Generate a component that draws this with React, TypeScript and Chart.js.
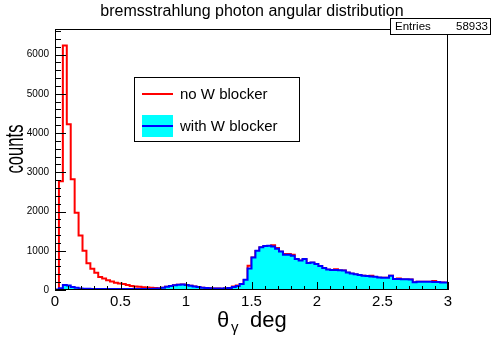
import React, { useEffect, useRef } from "react";
import { Chart, registerables } from "chart.js";

Chart.register(...registerables);

// ---- data (bins of 0.03 deg from 0 to 3 deg) ----
const BIN_W = 0.03;
const X_MIN = 0;
const X_MAX = 3;
const Y_MAX = 6650;
const xTickValues = [0, 0.5, 1, 1.5, 2, 2.5, 3];
const xTickLabels = ["0", "0.5", "1", "1.5", "2", "2.5", "3"];
const yTickValues = [0, 1000, 2000, 3000, 4000, 5000, 6000];
const yTickLabels = ["0", "1000", "2000", "3000", "4000", "5000", "6000"];

const noBlocker = [
  0, 2770, 6230, 4220, 2820, 1970, 1390, 1000, 680, 540,
  440, 330, 290, 250, 215, 185, 165, 150, 125, 105,
  92, 80, 72, 62, 55, 50, 45, 58, 82, 102,
  118, 132, 137, 122, 107, 88, 72, 58, 48, 42,
  38, 36, 34, 40, 48, 90, 115, 145, 255, 620,
  825, 995, 1085, 1115, 1120, 1140, 1070, 975, 920, 920,
  900, 785, 745, 785, 685, 695, 655, 605, 555, 515,
  505, 530, 500, 495, 440, 415, 395, 375, 360, 350,
  360, 330, 315, 310, 310, 360, 275, 295, 270, 270,
  265, 192, 210, 210, 210, 210, 230, 200, 188, 185,
];

const withBlocker = [
  10, 45, 130, 115, 75, 55, 40, 32, 30, 28,
  27, 26, 26, 25, 25, 24, 25, 24, 24, 23,
  24, 24, 25, 26, 28, 30, 40, 60, 85, 105,
  120, 135, 140, 125, 110, 90, 75, 60, 50, 45,
  40, 38, 36, 42, 50, 75, 100, 150, 260, 550,
  830, 1000, 1090, 1120, 1125, 1110, 1050, 980, 900, 895,
  870, 790, 750, 790, 690, 700, 660, 610, 560, 520,
  510, 510, 505, 500, 445, 420, 400, 380, 365, 355,
  345, 335, 320, 315, 315, 365, 280, 280, 275, 275,
  270, 195, 213, 213, 213, 213, 205, 205, 190, 190,
];

const TITLE = "bremsstrahlung photon angular distribution";
const LEGEND_RED = "no W blocker";
const LEGEND_BLUE = "with W blocker";
const ENTRIES = "58933";

const FONT = "'Liberation Sans', Arial, Helvetica, sans-serif";

function histPoints(vals: number[]) {
  const pts = vals.map((v, i) => ({ x: i * BIN_W, y: v }));
  pts.push({ x: vals.length * BIN_W, y: vals[vals.length - 1] });
  return pts;
}

const overlayPlugin = {
  id: "rootOverlay",
  afterDatasetsDraw(chart: any) {
    const { ctx, chartArea: a, scales } = chart;
    const xs = scales.x;
    const ys = scales.y;
    ctx.save();
    ctx.strokeStyle = "#000";
    ctx.lineWidth = 1;
    // ticks x (inside)
    for (let i = 0; i <= 30; i++) {
      const v = i / 10;
      const px = Math.round(xs.getPixelForValue(v)) + 0.5;
      const len = i % 5 === 0 ? 8 : 4;
      ctx.beginPath();
      ctx.moveTo(px, a.bottom);
      ctx.lineTo(px, a.bottom - len);
      ctx.stroke();
    }
    // ticks y (inside)
    for (let v = 0; v <= Y_MAX; v += 200) {
      const py = Math.round(ys.getPixelForValue(v)) + 0.5;
      const len = v % 1000 === 0 ? 11 : 6;
      ctx.beginPath();
      ctx.moveTo(a.left, py);
      ctx.lineTo(a.left + len, py);
      ctx.stroke();
    }
    // frame
    ctx.strokeRect(Math.round(a.left) + 0.5, Math.round(a.top) + 0.5,
      Math.round(a.right - a.left) - 1, Math.round(a.bottom - a.top) - 1);
    ctx.restore();
  },
  afterDraw(chart: any) {
    const { ctx } = chart;
    ctx.save();
    ctx.fillStyle = "#000";
    // title
    ctx.font = `16px ${FONT}`;
    ctx.textAlign = "center";
    ctx.textBaseline = "middle";
    ctx.fillText(TITLE, 252, 12);

    // stats box
    ctx.fillStyle = "#fff";
    ctx.fillRect(390, 18, 101, 17);
    ctx.strokeStyle = "#000";
    ctx.lineWidth = 1;
    ctx.strokeRect(390.5, 18.5, 100, 16);
    ctx.fillStyle = "#000";
    ctx.font = `11.5px ${FONT}`;
    ctx.textAlign = "left";
    ctx.fillText("Entries", 395, 27);
    ctx.textAlign = "right";
    ctx.fillText(ENTRIES, 488, 27);

    // legend
    ctx.fillStyle = "#fff";
    ctx.fillRect(134, 77, 166, 65);
    ctx.strokeRect(134.5, 77.5, 165, 64);
    ctx.strokeStyle = "#ff0000";
    ctx.lineWidth = 2;
    ctx.beginPath();
    ctx.moveTo(142, 94);
    ctx.lineTo(173, 94);
    ctx.stroke();
    ctx.fillStyle = "#00ffff";
    ctx.fillRect(142, 115, 31, 22);
    ctx.strokeStyle = "#0000ff";
    ctx.beginPath();
    ctx.moveTo(142, 126);
    ctx.lineTo(173, 126);
    ctx.stroke();
    ctx.fillStyle = "#000";
    ctx.font = `15px ${FONT}`;
    ctx.textAlign = "left";
    ctx.textBaseline = "middle";
    ctx.fillText(LEGEND_RED, 180, 95);
    ctx.fillText(LEGEND_BLUE, 180, 127);

    // x axis title: theta_gamma deg
    ctx.font = `22px ${FONT}`;
    ctx.textBaseline = "alphabetic";
    ctx.textAlign = "left";
    ctx.fillText("\u03b8", 217, 327);
    ctx.font = `15px ${FONT}`;
    ctx.fillText("\u03b3", 231, 332);
    ctx.font = `22px ${FONT}`;
    ctx.fillText("deg", 250, 327);

    // y axis title
    ctx.save();
    ctx.translate(23, 149);
    ctx.rotate(-Math.PI / 2);
    ctx.scale(0.64, 1);
    ctx.font = `26px ${FONT}`;
    ctx.textAlign = "center";
    ctx.textBaseline = "alphabetic";
    ctx.fillText("counts", 0, 0);
    ctx.restore();

    ctx.restore();
  },
};

export default function App() {
  const ref = useRef<HTMLCanvasElement | null>(null);
  useEffect(() => {
    if (!ref.current) return;
    const chart = new Chart(ref.current, {
      type: "line",
      data: {
        datasets: [
          {
            label: LEGEND_BLUE,
            data: histPoints(withBlocker),
            borderColor: "#0000ff",
            backgroundColor: "#00ffff",
            borderWidth: 2,
            fill: "origin",
            stepped: true,
            pointRadius: 0,
            tension: 0,
            order: 0,
          },
          {
            label: LEGEND_RED,
            data: histPoints(noBlocker),
            borderColor: "#ff0000",
            backgroundColor: "rgba(0,0,0,0)",
            borderWidth: 2,
            fill: false,
            stepped: true,
            pointRadius: 0,
            tension: 0,
            order: 1,
          },
        ],
      },
      options: {
        responsive: false,
        animation: false,
        devicePixelRatio: 1,
        layout: { padding: { left: 0, right: 50, top: 29, bottom: 0 } },
        plugins: {
          legend: { display: false },
          title: { display: false },
          tooltip: { enabled: false },
        },
        scales: {
          x: {
            type: "linear",
            min: X_MIN,
            max: X_MAX,
            grid: { display: false, drawTicks: false },
            border: { display: false },
            afterBuildTicks: (s: any) => {
              s.ticks = xTickValues.map((v) => ({ value: v }));
            },
            ticks: {
              padding: 3,
              maxRotation: 0,
              autoSkip: false,
              color: "#000",
              font: { family: FONT, size: 15 },
              callback: (v: any, i: number) => xTickLabels[i] ?? "",
            },
            afterFit: (s: any) => {
              s.height = 48;
            },
          },
          y: {
            type: "linear",
            min: 0,
            max: Y_MAX,
            grid: { display: false, drawTicks: false },
            border: { display: false },
            afterBuildTicks: (s: any) => {
              s.ticks = yTickValues.map((v) => ({ value: v }));
            },
            ticks: {
              padding: 6,
              autoSkip: false,
              color: "#000",
              font: { family: FONT, size: 10 },
              callback: (v: any, i: number) => yTickLabels[i] ?? "",
            },
            afterFit: (s: any) => {
              s.width = 55;
            },
          },
        },
      },
      plugins: [overlayPlugin],
    });
    return () => chart.destroy();
  }, []);
  return (
    <div style={{ position: "fixed", left: 0, top: 0, width: 498, height: 338, background: "#fff" }}>
      <canvas ref={ref} width={498} height={338} style={{ display: "block" }} />
    </div>
  );
}
